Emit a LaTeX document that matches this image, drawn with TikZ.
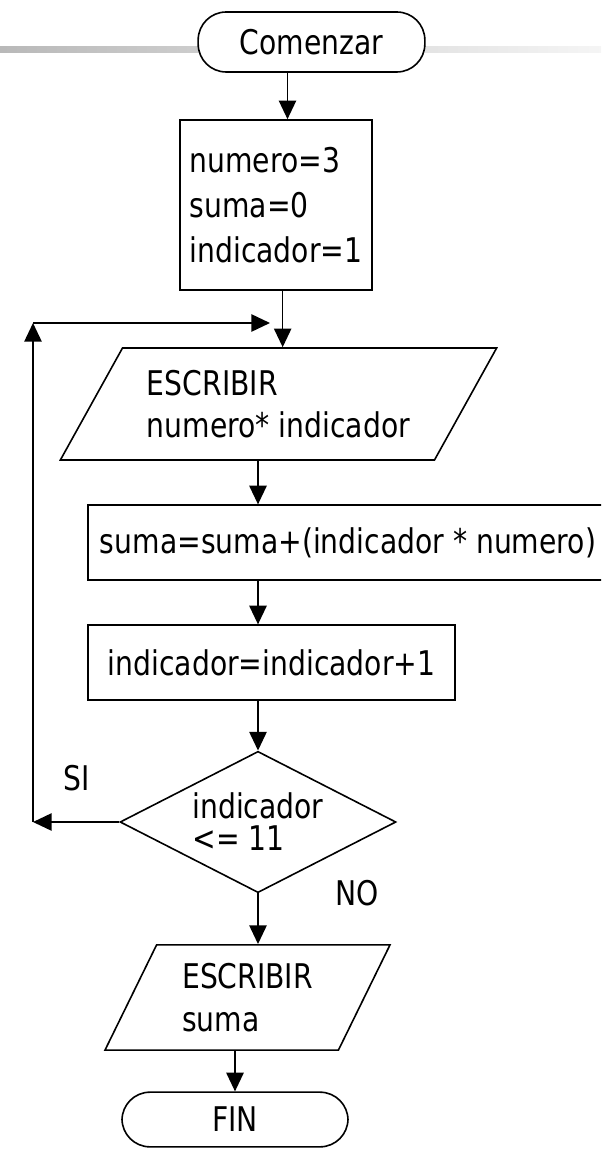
\documentclass[tikz,border=0pt]{standalone}
\usepackage{fontspec}
\setmainfont{DejaVu Sans}[FakeStretch=0.83]
\usepackage{tikz}
\usetikzlibrary{arrows.meta,shapes.geometric,calc}

\begin{document}
\begin{tikzpicture}[
    x=0.75pt, y=-0.75pt,
    >={Triangle[length=14pt,width=13pt]},
    font=\fontsize{25.5}{31}\selectfont,
    flow/.style={->, line width=1.2pt},
    term/.style={draw, line width=1.2pt, fill=white, rounded corners=21pt},
    proc/.style={draw, line width=1.2pt, align=left, inner sep=0pt},
    io/.style={trapezium, trapezium stretches=true, draw, line width=1.2pt, align=left, inner sep=0pt},
    test/.style={diamond, shape aspect=2, draw, line width=1.2pt, align=left, inner sep=0pt},
    lbl/.style={inner sep=0pt}
]
\useasboundingbox (0,0) rectangle (601,1151);
\clip (0,0) rectangle (601,1151);
% slide rule behind the start node
\shade[left color=gray!55, right color=gray!8] (0,47) rectangle (601,53);

\node[term, minimum width=170pt, minimum height=45pt] (start) at (311.5,42) {Comenzar};
\node[proc, minimum width=144pt, minimum height=127.5pt, font=\fontsize{25.5}{34}\selectfont] (init) at (276,205) {numero=3\\suma=0\\indicador=1};
\node[io, trapezium left angle=52, trapezium right angle=128, minimum width=328pt, minimum height=84pt] (out1) at (278.5,404) {ESCRIBIR\\numero* indicador};
\node[proc, minimum width=390pt, minimum height=56pt] (sum) at (348,542.5) {suma=suma+(indicador * numero)};
\node[proc, minimum width=275pt, minimum height=56pt] (inc) at (271.5,662.5) {indicador=indicador+1};
\node[test, minimum width=207pt, minimum height=106pt, font=\fontsize{25.5}{24}\selectfont] (dec) at (258,822) {indicador\\<= 11};
\node[io, trapezium left angle=61.5, trapezium right angle=118.5, minimum width=214pt, minimum height=79pt, font=\fontsize{25.5}{32}\selectfont] (out2) at (247.5,997.5) {ESCRIBIR\\suma};
\node[term, minimum width=169.5pt, minimum height=41pt] (fin) at (235,1119.5) {FIN};

\node[lbl] (si) at (77,778) {SI};
\node[lbl] (no) at (357,893) {NO};

\coordinate (lowleft) at (33,822);
\coordinate (upleft) at (33,323);
\coordinate (join) at (270,323);

\draw[flow] ([xshift=-18]start.south) -- ([xshift=-18]start.south |- init.north);
\draw[flow] ([xshift=5]init.south) -- ([xshift=5]init.south |- out1.north);
\draw[flow] (out1.south -| dec.north) -- (sum.north -| dec.north);
\draw[flow] (sum.south -| dec.north) -- (inc.north -| dec.north);
\draw[flow] (inc.south -| dec.north) -- (dec.north);
\draw[flow] (dec.west) -- (lowleft);
\draw[flow] (lowleft) -- (upleft);
\draw[flow] (upleft) -- (join);
\draw[flow] (dec.south) -- (dec.south |- out2.north);
\draw[flow] (out2.south -| fin.north) -- (fin.north);
\end{tikzpicture}
\end{document}
